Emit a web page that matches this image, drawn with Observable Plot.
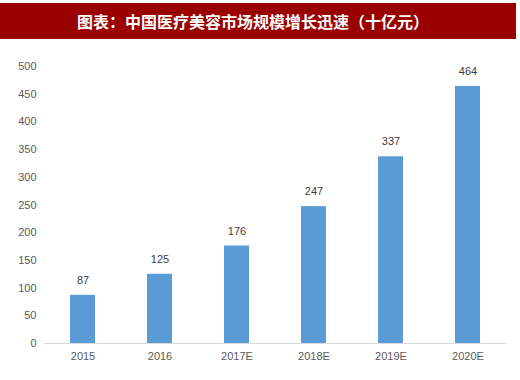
<!DOCTYPE html>
<html><head><meta charset="utf-8">
<script src="https://cdn.jsdelivr.net/npm/d3@7"></script>
<script src="https://cdn.jsdelivr.net/npm/@observablehq/plot@0.6"></script>
<style>
body{margin:0;background:#fff;width:520px;height:380px;overflow:hidden;}
#title{margin-top:3px;width:516px;height:36px;background:#990000;color:#fff;font-family:"Noto Sans CJK SC",sans-serif;font-weight:bold;font-size:16px;line-height:36px;text-align:center;letter-spacing:0px;text-indent:-10px;}
#chart{margin-top:1px;}
</style></head>
<body>
<div id="title">图表：中国医疗美容市场规模增长迅速（十亿元）</div>
<div id="chart"></div>
<script>
const years = ["2015","2016","2017E","2018E","2019E","2020E"];
const values = [87,125,176,247,337,464];
const yTicks = [0,50,100,150,200,250,300,350,400,450,500];
const data = years.map((y,i)=>({year:y,value:values[i]}));
const plot = Plot.plot({
  width:520, height:340,
  marginTop:26, marginBottom:37, marginLeft:44, marginRight:14,
  style:{fontFamily:"'Liberation Sans',Arial,sans-serif",fontSize:"11px",color:"#595959",background:"#fff"},
  x:{domain:years,paddingInner:0.67,paddingOuter:0.335,label:null,tickSize:0,tickPadding:9},
  y:{domain:[0,500],ticks:yTicks,label:null,tickSize:0,tickPadding:8},
  marks:[
    Plot.barY(data,{x:"year",y:"value",fill:"#5b9bd5"}),
    Plot.ruleY([0],{stroke:"#d9d9d9",strokeWidth:1.2}),
    Plot.text(data,{x:"year",y:"value",text:d=>String(d.value),dy:-15,fill:"#404040",fontSize:11}),
    Plot.axisY({ticks:yTicks,tickSize:0,tickPadding:8,label:null}),
    Plot.axisX({tickSize:0,tickPadding:9,label:null})
  ]
});
document.getElementById("chart").appendChild(plot);
</script>
</body></html>
